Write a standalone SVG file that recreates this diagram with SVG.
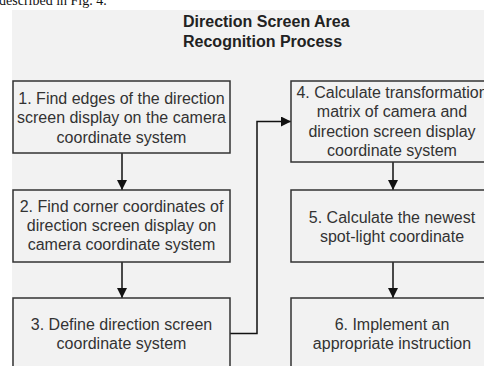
<svg xmlns="http://www.w3.org/2000/svg" width="484" height="366" viewBox="0 0 484 366">
  <style>
    .page { fill: #ffffff; }
    .panel { fill: #f2f2f2; }
    .box { fill: #f2f2f2; stroke: #333333; stroke-width: 1.5; }
    .label { font-family: "Liberation Sans", Arial, sans-serif; font-size: 16px; fill: #333333; text-anchor: middle; }
    .title { font-family: "Liberation Sans", Arial, sans-serif; font-size: 16px; font-weight: bold; fill: #222222; }
    .body { font-family: "Liberation Serif", "Times New Roman", serif; font-size: 14px; fill: #111111; }
    .link { fill: none; stroke: #111111; stroke-width: 1.5; }
  </style>
  <defs>
    <marker id="arrow" viewBox="0 0 10 10" refX="10" refY="5" markerWidth="10" markerHeight="10" markerUnits="userSpaceOnUse" orient="auto">
      <path d="M0,0 L10,5 L0,10 Z" fill="#111111"/>
    </marker>
  </defs>

  <rect class="page" x="0" y="0" width="484" height="366"/>
  <!-- running text above the figure, clipped by the page top -->
  <text class="body" x="-1" y="5">described in Fig. 4.</text>
  <rect class="panel" x="12" y="10" width="472" height="356"/>

  <g id="title">
    <text class="title" x="183" y="26.5">Direction Screen Area</text>
    <text class="title" x="183" y="46.5">Recognition Process</text>
  </g>

  <g id="connectors">
    <line class="link" x1="122" y1="153" x2="122" y2="190" marker-end="url(#arrow)"/>
    <line class="link" x1="122" y1="262" x2="122" y2="298" marker-end="url(#arrow)"/>
    <polyline class="link" points="230,333.5 257,333.5 257,121.5 291,121.5" marker-end="url(#arrow)"/>
    <line class="link" x1="393" y1="162" x2="393" y2="190" marker-end="url(#arrow)"/>
    <line class="link" x1="393" y1="262" x2="393" y2="298" marker-end="url(#arrow)"/>
  </g>

  <g id="step1">
    <rect class="box" x="13" y="81" width="217" height="72"/>
    <text class="label" x="121.5" y="103.5">1. Find edges of the direction</text>
    <text class="label" x="121.5" y="123">screen display on the camera</text>
    <text class="label" x="121.5" y="142.5">coordinate system</text>
  </g>

  <g id="step2">
    <rect class="box" x="13" y="190" width="217" height="72"/>
    <text class="label" x="121.5" y="211.5">2. Find corner coordinates of</text>
    <text class="label" x="121.5" y="231">direction screen display on</text>
    <text class="label" x="121.5" y="250">camera coordinate system</text>
  </g>

  <g id="step3">
    <rect class="box" x="13" y="298" width="217" height="90"/>
    <text class="label" x="121.5" y="330">3. Define direction screen</text>
    <text class="label" x="121.5" y="349">coordinate system</text>
  </g>

  <g id="step4">
    <rect class="box" x="291" y="81" width="202" height="81"/>
    <text class="label" x="392" y="97.5">4. Calculate transformation</text>
    <text class="label" x="392" y="117">matrix of camera and</text>
    <text class="label" x="392" y="136.5">direction screen display</text>
    <text class="label" x="392" y="156">coordinate system</text>
  </g>

  <g id="step5">
    <rect class="box" x="291" y="190" width="202" height="72"/>
    <text class="label" x="392" y="222.5">5. Calculate the newest</text>
    <text class="label" x="392" y="241.5">spot-light coordinate</text>
  </g>

  <g id="step6">
    <rect class="box" x="291" y="298" width="202" height="90"/>
    <text class="label" x="392" y="330">6. Implement an</text>
    <text class="label" x="392" y="349">appropriate instruction</text>
  </g>
</svg>
